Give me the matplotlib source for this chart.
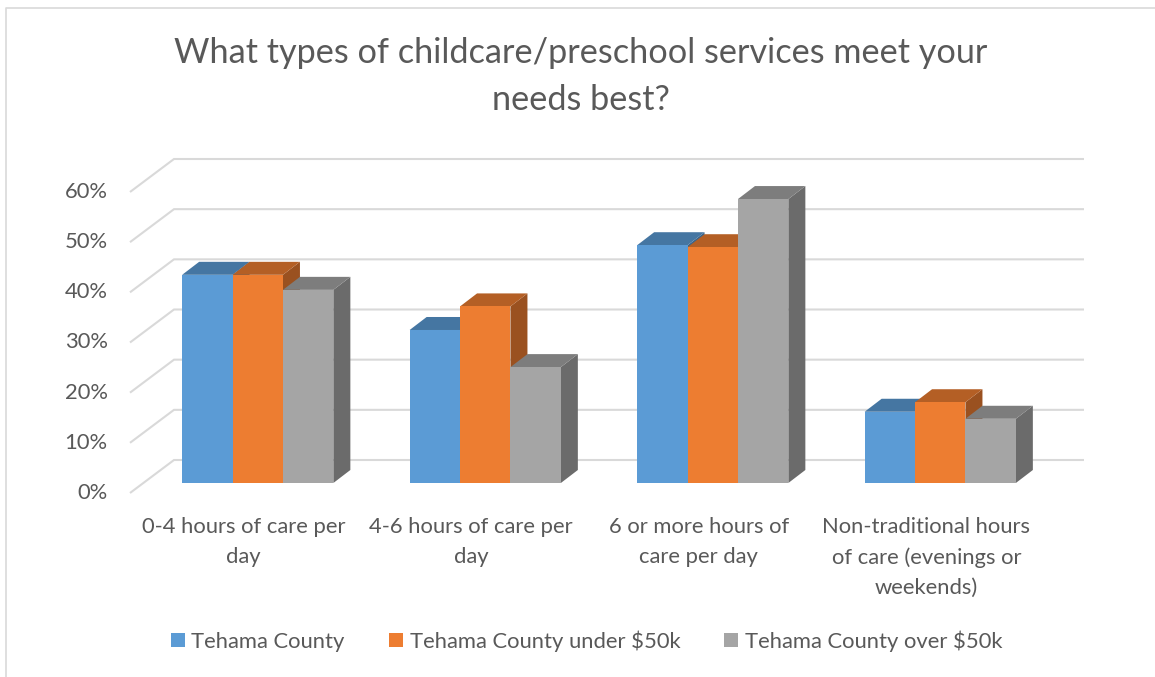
#!/usr/bin/env python3
import numpy as np
import matplotlib
matplotlib.use("Agg")
import matplotlib.pyplot as plt
from matplotlib.patches import Patch, Polygon
from matplotlib.lines import Line2D
from matplotlib.transforms import Affine2D

categories = ['0-4 hours of care per\nday', '4-6 hours of care per\nday',
              '6 or more hours of\ncare per day',
              'Non-traditional hours\nof care (evenings or\nweekends)']
series_names = ['Tehama County', 'Tehama County under $50k', 'Tehama County over $50k']
tehama = [41.5, 30.5, 47.4, 14.2]
under_50k = [41.5, 35.2, 47.0, 16.1]
over_50k = [38.5, 23.1, 56.6, 12.8]
y_ticks = [0, 10, 20, 30, 40, 50, 60]
y_labels = ['0%', '10%', '20%', '30%', '40%', '50%', '60%']

front_colors = ['#5B9BD5', '#ED7D31', '#A5A5A5']
top_colors = ['#4576A2', '#B45F25', '#7D7D7D']
side_colors = ['#3B658B', '#9A5120', '#6B6B6B']
grid_color = '#D9D9D9'
text_color = '#595959'

W, H = 1155, 677
plt.rcParams['font.family'] = ['Lato', 'DejaVu Sans']

fig = plt.figure(figsize=(W/100, H/100), dpi=100)
# axes is the front plane of the 3D box, in pixels of the reference
left, right, bottom, top = 130, 1040, 493, 192
ax = fig.add_axes([left/W, 1-bottom/H, (right-left)/W, (bottom-top)/H])
ax.set_xlim(-0.5, 3.5)
ax.set_ylim(0, 60)
for s in ax.spines.values():
    s.set_visible(False)

# oblique projection: pixels to data units
px_x = 4/(right-left)
px_y = 60/(bottom-top)
depth_x, depth_y = 44*px_x, 33*px_y      # floor depth
bar_x, bar_y = 14*px_x, 10*px_y          # bar front sits this far in
side_x, side_y = 17*px_x, 13*px_y        # depth of a bar

# back wall gridlines and the diagonals on the left wall
for v in y_ticks:
    ax.plot([-0.5, -0.5+depth_x, 3.5+depth_x], [v, v+depth_y, v+depth_y],
            color=grid_color, lw=1.5, clip_on=False, zorder=1,
            solid_joinstyle='miter', solid_capstyle='butt')

bar_w = 50.4*px_x
z = 2
for i, vals in enumerate([tehama, under_50k, over_50k]):
    xs = np.arange(len(categories)) + (i-1)*bar_w + bar_x
    for x, v in zip(xs, vals):
        x0, x1 = x-bar_w/2, x+bar_w/2
        y1 = v+bar_y
        ax.add_patch(Polygon([(x1, bar_y), (x1+side_x, bar_y+side_y), (x1+side_x, y1+side_y), (x1, y1)],
                             facecolor=side_colors[i], edgecolor='none', clip_on=False, zorder=z))
        ax.add_patch(Polygon([(x0, y1), (x1, y1), (x1+side_x, y1+side_y), (x0+side_x, y1+side_y)],
                             facecolor=top_colors[i], edgecolor='none', clip_on=False, zorder=z))
    ax.bar(xs, vals, bar_w, bottom=bar_y, color=front_colors[i], clip_on=False, zorder=z+0.5)
    z += 1

ax.set_xticks(range(len(categories)))
ax.set_xticklabels(categories, fontsize=15.8, color=text_color, linespacing=1.63)
ax.set_yticks(y_ticks)
ax.set_yticklabels(y_labels, fontsize=15.8, color=text_color)
ax.tick_params(axis='x', length=0, pad=17)
ax.tick_params(axis='y', length=0, pad=16)
# labels sit a little above the front gridline ends
for lab in ax.get_yticklabels():
    lab.set_transform(lab.get_transform() + Affine2D().translate(0, 2))

fig.text(581/W, 1-53/H, 'What types of childcare/preschool services meet your',
         ha='center', va='center', fontsize=24.7, color=text_color)
fig.text(581/W, 1-100/H, 'needs best?', ha='center', va='center', fontsize=24.7, color=text_color)

handles = [Patch(facecolor=c, edgecolor='none') for c in front_colors]
fig.legend(handles, series_names, ncol=3, loc='center', bbox_to_anchor=(586.5/W, 1-641/H),
           frameon=False, fontsize=15.8, labelcolor=text_color, handlelength=0.65,
           handleheight=0.65, handletextpad=0.3, columnspacing=2.0)

# chart frame, only top and left fall inside the picture
fig.add_artist(Line2D([5.5/W, 5.5/W, 1], [0, 1-7.5/H, 1-7.5/H], color=grid_color, lw=1.2))

fig.savefig('out.png', dpi=100)
